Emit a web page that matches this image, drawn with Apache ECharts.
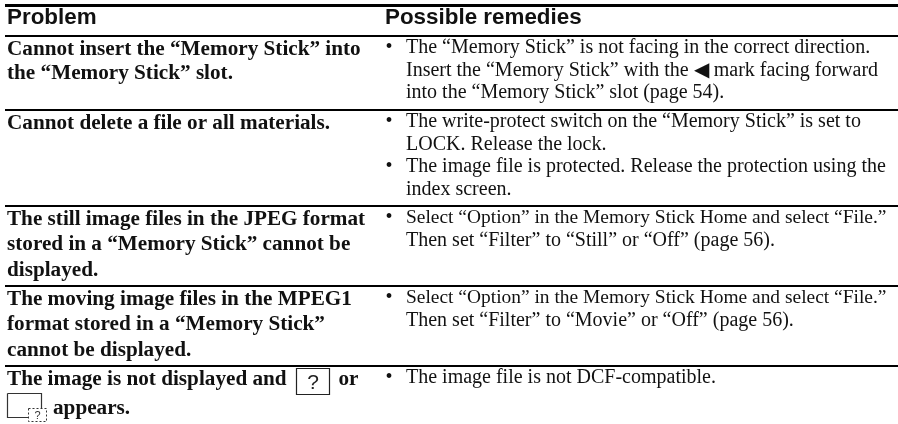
<!DOCTYPE html>
<html><head><meta charset="utf-8">
<style>html,body{margin:0;padding:0;background:#fff}#c{width:898px;height:424px}</style>
<script src="https://cdn.jsdelivr.net/npm/echarts@6/dist/echarts.min.js"></script>
</head><body><div id="c"></div>
<script>
const headers = ["Problem", "Possible remedies"];
const problemLines = [
  ["Cannot insert the “Memory Stick” into", "the “Memory Stick” slot."],
  ["Cannot delete a file or all materials."],
  ["The still image files in the JPEG format", "stored in a “Memory Stick” cannot be", "displayed."],
  ["The moving image files in the MPEG1", "format stored in a “Memory Stick”", "cannot be displayed."],
  ["The image is not displayed and", "appears."]
];
const remedyLines = [
  [["The “Memory Stick” is not facing in the correct direction.", "Insert the “Memory Stick” with the ◀ mark facing forward", "into the “Memory Stick” slot (page 54)."]],
  [["The write-protect switch on the “Memory Stick” is set to", "LOCK. Release the lock."], ["The image file is protected. Release the protection using the", "index screen."]],
  [["Select “Option” in the Memory Stick Home and select “File.”", "Then set “Filter” to “Still” or “Off” (page 56)."]],
  [["Select “Option” in the Memory Stick Home and select “File.”", "Then set “Filter” to “Movie” or “Off” (page 56)."]],
  [["The image file is not DCF-compatible."]]
];
const inlineWords = ["or"];
const iconGlyph = "?";

// layout (pixel scale of the hidden axes)
const W = 898, H = 424;
const ruleY = [5.5, 36, 110, 206, 286, 366];
const ruleW = [3, 2, 2, 2, 2, 2];
const X = {left: 7, col2: 385, text2: 406};
const leftPitch = [24, 0, 25.5, 25.5, 29.5];
const rightPitch = 22.8;
const firstLeft = 13.5, firstRight = 11.5;
const maxLeft = 358, maxRight = 481;

const measure = document.createElement('canvas').getContext('2d');
function fit(t, size, weight, family, maxW) {
  measure.font = `${weight} ${size}px ${family}`;
  const w = measure.measureText(t).width;
  const s = w > maxW ? size * maxW / w : size;
  return `${weight} ${s.toFixed(2)}px ${family}`;
}
const serif = '"Liberation Serif"';
const fontL = t => fit(t, 21.2, 'bold', serif, maxLeft);
const fontR = t => fit(t, 20, 'normal', serif, maxRight);
const fontH = 'bold 22.4px "Liberation Sans"';

const texts = [];
texts.push({x: X.left, y: 18, t: headers[0], f: fontH});
texts.push({x: X.col2, y: 18, t: headers[1], f: fontH});
problemLines.forEach((ls, r) => ls.forEach((t, i) => {
  const xx = (r === 4 && i === 1) ? X.left + 46 : X.left;
  texts.push({x: xx, y: ruleY[r + 1] + firstLeft + i * leftPitch[r], t, f: fontL(t)});
}));
remedyLines.forEach((bs, r) => {
  let n = 0;
  bs.forEach(ls => {
    ls.forEach((t, i) => {
      const y = ruleY[r + 1] + firstRight + n * rightPitch;
      if (i === 0) texts.push({x: X.col2 + 0.5, y, t: "•", f: fontR("•")});
      texts.push({x: X.text2, y, t, f: fontR(t)});
      n++;
    });
  });
});
texts.push({x: 338.5, y: ruleY[5] + firstLeft, t: inlineWords[0], f: fontL(inlineWords[0])});

const chart = echarts.init(document.getElementById('c'), null, {renderer: 'canvas'});
chart.setOption({
  animation: false,
  grid: {left: 0, right: 0, top: 0, bottom: 0},
  xAxis: {type: 'value', min: 0, max: W, show: false},
  yAxis: {type: 'value', min: 0, max: H, inverse: true, show: false},
  series: [
    {type: 'custom', name: 'rules', silent: true, data: ruleY.map((y, i) => [y, ruleW[i]]),
     renderItem: (p, api) => {
       const a = api.coord([5, api.value(0)]), b = api.coord([W, api.value(0)]);
       return {type: 'line', shape: {x1: a[0], y1: a[1], x2: b[0], y2: b[1]}, style: {stroke: '#000', lineWidth: api.value(1)}};
     }},
    {type: 'custom', name: 'text', silent: true, data: texts.map(d => [d.x, d.y]),
     renderItem: (p, api) => {
       const c = api.coord([api.value(0), api.value(1)]), d = texts[p.dataIndex];
       return {type: 'text', x: c[0], y: c[1], style: {text: d.t, font: d.f, fill: '#111', align: 'left', verticalAlign: 'middle'}};
     }},
    {type: 'custom', name: 'icons', silent: true, data: [[0]],
     renderItem: (p, api) => {
       const y5 = ruleY[5];
       const c = api.coord([0, 0]);
       return {type: 'group', x: c[0], y: c[1], children: [
         {type: 'rect', shape: {x: 296.5, y: y5 + 2.5, width: 33, height: 26}, style: {fill: '#fff', stroke: '#222', lineWidth: 1.2}},
         {type: 'text', x: 313, y: y5 + 17, style: {text: iconGlyph, font: '21px "Liberation Sans"', fill: '#222', align: 'center', verticalAlign: 'middle'}},
         {type: 'polyline', shape: {points: [[7.5, y5 + 27.5], [7.5, y5 + 51.5], [28, y5 + 51.5]]}, style: {fill: 'none', stroke: '#333', lineWidth: 1.2}},
         {type: 'polyline', shape: {points: [[7.5, y5 + 27.5], [41.5, y5 + 27.5], [41.5, y5 + 42]]}, style: {fill: 'none', stroke: '#333', lineWidth: 1.2}},
         {type: 'rect', shape: {x: 28.5, y: y5 + 42.5, width: 18, height: 13}, style: {fill: '#fff', stroke: '#333', lineWidth: 1, lineDash: [2, 2]}},
         {type: 'text', x: 37.5, y: y5 + 49.5, style: {text: iconGlyph, font: '11px "Liberation Sans"', fill: '#333', align: 'center', verticalAlign: 'middle'}}
       ]};
     }}
  ]
});
</script></body></html>
